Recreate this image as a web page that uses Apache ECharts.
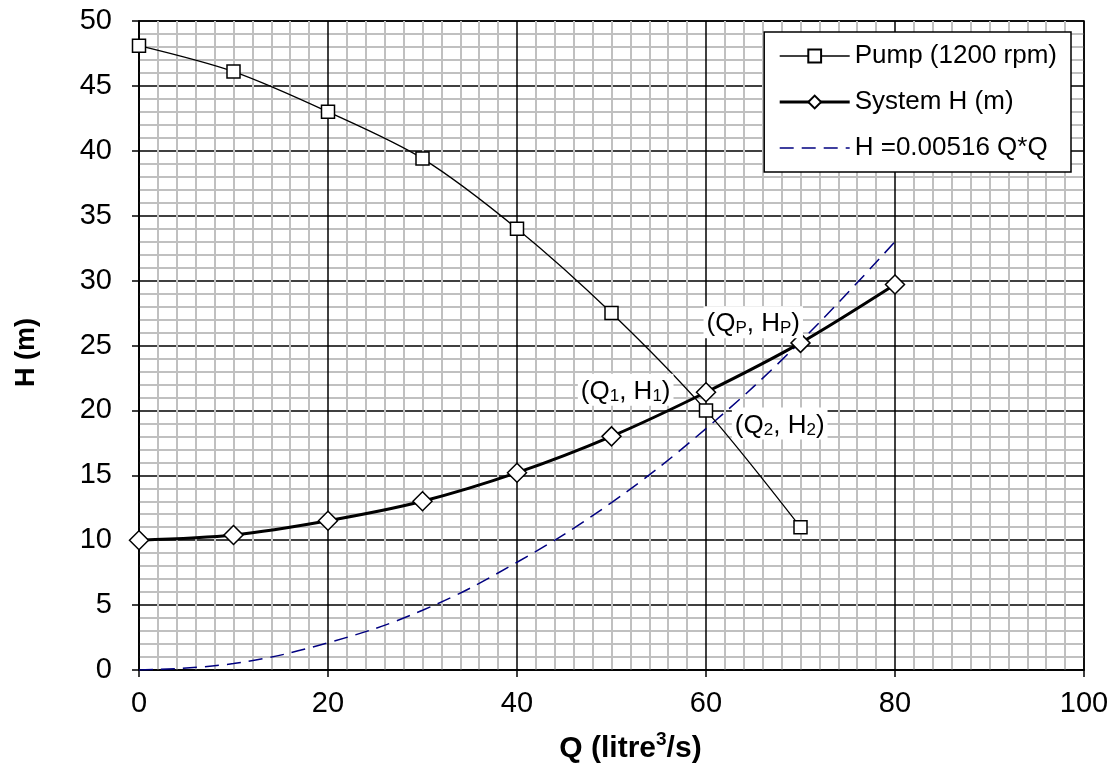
<!DOCTYPE html>
<html><head><meta charset="utf-8">
<script src="https://cdn.jsdelivr.net/npm/echarts@6/dist/echarts.min.js"></script>
<style>html,body{margin:0;padding:0;background:#fff}#c{width:1118px;height:769px}</style>
</head><body><div id="c"></div>
<script>
const flowQ = [0, 10, 20, 30, 40, 50, 60, 70, 80];
const pumpH = [48.1, 46.1, 43.0, 39.4, 34.0, 27.5, 20.0, 11.0];
const systemH = [10.0, 10.4, 11.5, 13.0, 15.2, 18.0, 21.4, 25.2, 29.7];
const parabolaH = [0, 0.5, 2.1, 4.6, 8.3, 12.9, 18.6, 25.3, 33.0];
const seriesNames = ['Pump (1200 rpm)', 'System H (m)', 'H =0.00516 Q*Q'];
const pointLabels = [
  {q: 65.0, h: 26.8, t: '{m|(Q}{s|P}{m|, H}{s|P}{m|)}'},
  {q: 51.5, h: 21.6, t: '{m|(Q}{s|1}{m|, H}{s|1}{m|)}'},
  {q: 67.8, h: 19.0, t: '{m|(Q}{s|2}{m|, H}{s|2}{m|)}'}
];
const FONT = '"Liberation Sans", Arial, sans-serif';
const pair = (xs, ys) => ys.map((y, i) => [xs[i], y]);
const chart = echarts.init(document.getElementById('c'));
chart.setOption({
  animation: false,
  textStyle: {fontFamily: FONT},
  grid: {left: 139, right: 34, top: 21, bottom: 99, containLabel: false, outerBoundsMode: 'none',
    show: true, borderColor: '#000', borderWidth: 1.5, backgroundColor: '#fff'},
  legend: {
    orient: 'vertical', right: 47, top: 32,
    backgroundColor: '#fff', borderColor: '#000', borderWidth: 1.5,
    padding: [10, 14, 10, 14], itemGap: 18, itemWidth: 70, itemHeight: 16,
    textStyle: {fontFamily: FONT, fontSize: 26, color: '#000', lineHeight: 28},
    data: [
      {name: seriesNames[0], lineStyle: {width: 1.3, color: '#000'}},
      {name: seriesNames[1], lineStyle: {width: 3, color: '#000'}},
      {name: seriesNames[2], lineStyle: {width: 1.5, color: '#000080', type: [14, 8]},
        itemStyle: {color: 'rgba(0,0,0,0)', borderColor: 'rgba(0,0,0,0)', opacity: 0}}
    ]
  },
  xAxis: {
    type: 'value', min: 0, max: 100, interval: 20,
    name: '{a|Q (litre}{b|3}{a|/s)}', nameLocation: 'middle', nameGap: 60,
    nameTextStyle: {
      fontFamily: FONT, fontSize: 30, fontWeight: 'bold', color: '#000', padding: [0, 0, 0, 38],
      rich: {
        a: {fontFamily: FONT, fontSize: 30, fontWeight: 'bold', color: '#000', lineHeight: 34, verticalAlign: 'bottom'},
        b: {fontFamily: FONT, fontSize: 19, fontWeight: 'bold', color: '#000', lineHeight: 19, verticalAlign: 'top'}
      }
    },
    axisLine: {show: true, lineStyle: {color: '#000', width: 1.5}},
    axisTick: {show: true, inside: false, length: 7, lineStyle: {color: '#000', width: 1.5}},
    axisLabel: {fontFamily: FONT, fontSize: 29, color: '#000', margin: 19},
    splitLine: {show: true, lineStyle: {color: '#000', width: 1.5}},
    minorTick: {show: false, splitNumber: 10},
    minorSplitLine: {show: true, lineStyle: {color: '#c0c0c0', width: 2}}
  },
  yAxis: {
    type: 'value', min: 0, max: 50, interval: 5,
    name: 'H (m)', nameLocation: 'middle', nameGap: 99, nameRotate: 90,
    nameTextStyle: {fontFamily: FONT, fontSize: 27, fontWeight: 'bold', color: '#000', padding: [0, 14, 0, 0]},
    axisLine: {show: true, lineStyle: {color: '#000', width: 1.5}},
    axisTick: {show: true, inside: false, length: 7, lineStyle: {color: '#000', width: 1.5}},
    axisLabel: {fontFamily: FONT, fontSize: 29, color: '#000', margin: 27},
    splitLine: {show: true, lineStyle: {color: '#000', width: 1.5}},
    minorTick: {show: false, splitNumber: 5},
    minorSplitLine: {show: true, lineStyle: {color: '#c0c0c0', width: 2}}
  },
  series: [
    {
      name: seriesNames[0], type: 'line', data: pair(flowQ, pumpH), smooth: 0.3,
      symbol: 'rect', symbolSize: 13, showAllSymbol: true,
      lineStyle: {color: '#000', width: 1.3},
      itemStyle: {color: '#fff', borderColor: '#000', borderWidth: 1.5},
      z: 4
    },
    {
      name: seriesNames[1], type: 'line', data: pair(flowQ, systemH), smooth: 0.3,
      symbol: 'diamond', symbolSize: 19,
      lineStyle: {color: '#000', width: 3},
      itemStyle: {color: '#fff', borderColor: '#000', borderWidth: 1.5},
      z: 4
    },
    {
      name: seriesNames[2], type: 'line', data: pair(flowQ, parabolaH), smooth: 0.4,
      symbol: 'none',
      lineStyle: {color: '#000080', width: 1.5, type: [14, 8]},
      itemStyle: {color: '#000080'},
      z: 3
    },
    {
      type: 'scatter', data: pointLabels.map(p => ({value: [p.q, p.h], t: p.t})),
      symbolSize: 0, silent: true, z: 6,
      itemStyle: {opacity: 1},
      label: {
        show: true, position: 'inside', backgroundColor: '#fff', padding: [1, 3],
        color: '#000', textBorderWidth: 0,
        formatter: p => p.data.t,
        rich: {
          m: {fontFamily: FONT, fontSize: 26, color: '#000', lineHeight: 30, verticalAlign: 'bottom'},
          s: {fontFamily: FONT, fontSize: 17, color: '#000', lineHeight: 15, verticalAlign: 'bottom'}
        }
      }
    }
  ]
});
</script></body></html>
